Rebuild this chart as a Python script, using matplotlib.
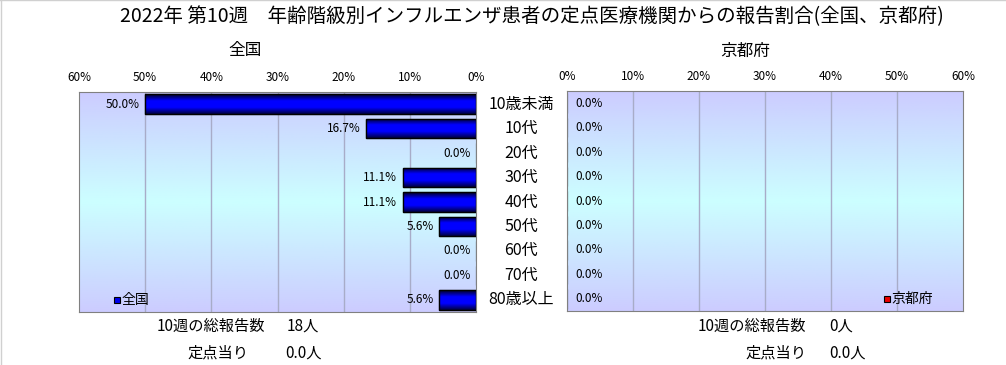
import matplotlib
matplotlib.use("Agg")
import matplotlib.pyplot as plt
import numpy as np
from matplotlib.colors import LinearSegmentedColormap

plt.rcParams['font.family'] = ['Noto Sans CJK JP', 'DejaVu Sans']

ages = ['10歳未満', '10代', '20代', '30代', '40代', '50代', '60代', '70代', '80歳以上']
zenkoku = [50.0, 16.7, 0.0, 11.1, 11.1, 5.6, 0.0, 0.0, 5.6]
kyoto = [0.0, 0.0, 0.0, 0.0, 0.0, 0.0, 0.0, 0.0, 0.0]
ticks = [0, 10, 20, 30, 40, 50, 60]

title = '2022年 第10週　年齢階級別インフルエンザ患者の定点医療機関からの報告割合(全国、京都府)'
total_zen, per_zen = '18人', '0.0人'
total_kyo, per_kyo = '0人', '0.0人'

W, H = 1006, 365
fig = plt.figure(figsize=(W / 100, H / 100), dpi=100)

bg = LinearSegmentedColormap.from_list('bg', ['#ccccff', '#ccffff', '#ccccff'])
barcm = LinearSegmentedColormap.from_list('bar', ['#000020', '#0000ff', '#0000ff', '#000040'])


def px(x0, y0, x1, y1):
    return [x0 / W, 1 - y1 / H, (x1 - x0) / W, (y1 - y0) / H]


def panel(rect, vals, color, inverted, legend_name, legend_x):
    ax = fig.add_axes(rect)
    ax.set_xlim(60, 0) if inverted else ax.set_xlim(0, 60)
    ax.set_ylim(len(vals) - 0.5, -0.5)
    grad = np.linspace(0, 1, 256).reshape(-1, 1)
    ax.imshow(grad, cmap=bg, aspect='auto', extent=[0, 60, len(vals) - 0.5, -0.5], zorder=0)
    for t in ticks[1:-1]:
        ax.axvline(t, color='#a8acc8', lw=1, zorder=1)
    ys = np.arange(len(vals))
    bars = ax.barh(ys, vals, height=0.8, color=color, edgecolor='black', lw=0.8, zorder=2)
    for b, v in zip(bars, vals):
        if v > 0:
            y0 = b.get_y()
            im = ax.imshow(np.linspace(0, 1, 64).reshape(-1, 1), cmap=barcm, aspect='auto',
                           extent=[0, v, y0 + b.get_height(), y0], zorder=2)
            im.set_clip_path(b)
            ax.add_patch(plt.Rectangle((0, y0), v, b.get_height(), fill=False,
                                       ec='black', lw=1, zorder=3))
        if inverted:
            ax.text(v + 0.8, b.get_y() + b.get_height() / 2, f'{v:.1f}%', ha='right',
                    va='center', fontsize=8.5, zorder=4)
        else:
            ax.text(v + 1.2, b.get_y() + b.get_height() / 2, f'{v:.1f}%', ha='left',
                    va='center', fontsize=8.5, zorder=4)
    ax.set_xticks(ticks)
    ax.set_xticklabels([f'{t}%' for t in ticks], fontsize=8.5)
    ax.xaxis.tick_top()
    ax.tick_params(axis='x', length=0, pad=6)
    ax.set_yticks([])
    for s in ax.spines.values():
        s.set_color('#808080')
    ly = len(vals) - 1
    ax.plot([legend_x], [ly], marker='s', ms=5, mfc=color, mec='black', mew=0.8, zorder=5)
    ax.text(legend_x + (-0.7 if inverted else 0.7), ly, legend_name, fontsize=10,
            ha='left', va='center', zorder=5)
    return ax


ax1 = panel(px(79, 92, 476, 312), zenkoku, '#0000ee', True, '全国', 54.3)
ax2 = panel(px(567, 91, 963, 311), kyoto, '#ee0000', False, '京都府', 48.5)

fig.text(532 / W, 1 - 17 / H, title, ha='center', va='center', fontsize=14)
fig.text(245 / W, 1 - 51 / H, '全国', ha='center', va='center', fontsize=12)
fig.text(745 / W, 1 - 51 / H, '京都府', ha='center', va='center', fontsize=12)

for i, a in enumerate(ages):
    y = 92 + (i + 0.5) * (220 / len(ages))
    fig.text(521 / W, 1 - y / H, a, ha='center', va='center', fontsize=11.5)

fs = 11
fig.text(265 / W, 1 - 326 / H, '10週の総報告数', ha='right', va='center', fontsize=fs)
fig.text(287 / W, 1 - 326 / H, total_zen, ha='left', va='center', fontsize=fs)
fig.text(248 / W, 1 - 353 / H, '定点当り', ha='right', va='center', fontsize=fs)
fig.text(285 / W, 1 - 353 / H, per_zen, ha='left', va='center', fontsize=fs)
fig.text(806 / W, 1 - 326 / H, '10週の総報告数', ha='right', va='center', fontsize=fs)
fig.text(829 / W, 1 - 326 / H, total_kyo, ha='left', va='center', fontsize=fs)
fig.text(806 / W, 1 - 353 / H, '定点当り', ha='right', va='center', fontsize=fs)
fig.text(829 / W, 1 - 353 / H, per_kyo, ha='left', va='center', fontsize=fs)

fig.add_artist(plt.Line2D([0, 1], [0.999, 0.999], color='#d0d0d0', lw=1))
fig.add_artist(plt.Line2D([0.0005, 0.0005], [0, 1], color='#d0d0d0', lw=1))

fig.savefig('out.png', dpi=100)
